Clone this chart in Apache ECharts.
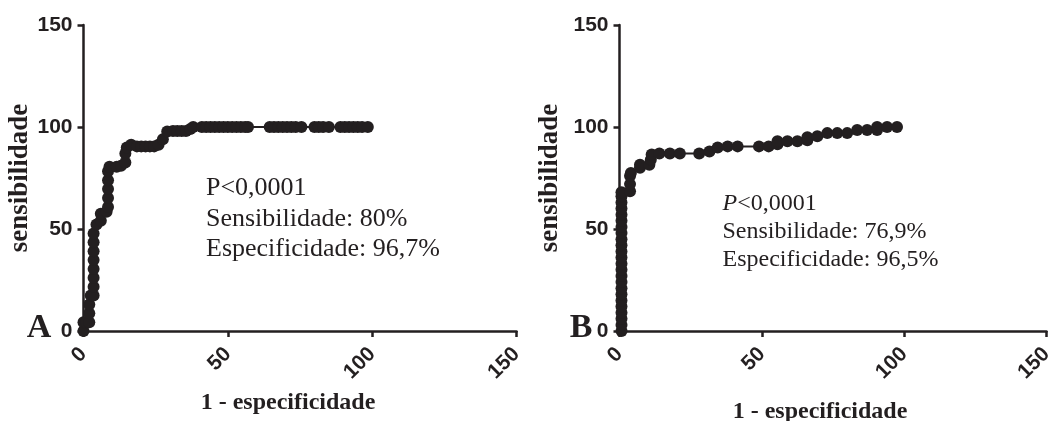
<!DOCTYPE html>
<html>
<head>
<meta charset="utf-8">
<script src="https://cdn.jsdelivr.net/npm/echarts@6/dist/echarts.min.js"></script>
<style>
  html, body { margin: 0; padding: 0; background: #fff; }
  #main { width: 1056px; height: 421px; }
</style>
</head>
<body>
<div id="main"></div>
<script>
// curva ROC A: [1 - especificidade, sensibilidade]
var rocA = [
  [0, 0], [0, 4.3], [1, 4.3], [2, 4.3], [2, 8.7], [2, 13], [2.5, 17.4], [3.5, 17.4],
  [3.5, 21.7], [3.5, 26.1], [3.5, 30.4], [3.5, 34.8], [3.5, 39.1], [3.5, 43.5], [3.5, 47.8],
  [4.5, 52.2], [6, 54], [6, 57.5], [8, 58.5], [8.5, 60.8], [8.5, 65.2], [8.5, 69.6],
  [8.5, 73.9], [8.5, 78.3], [9, 80.5], [11.5, 80.5], [13, 81], [14.5, 82.6], [14.5, 87],
  [15, 90], [16.5, 91.3], [18.5, 90.5], [20, 90.5], [21.5, 90.5], [23, 90.5], [24.5, 90.5],
  [26, 91.3], [27.5, 94], [29, 97.8], [31, 98], [32.5, 98], [34, 98], [35.5, 98], [37, 99],
  [38, 100], [41, 100], [42.5, 100], [44, 100], [45.5, 100], [47, 100], [48.5, 100],
  [50, 100], [51.5, 100], [53, 100], [54.5, 100], [56, 100], [57, 100], [64.5, 100],
  [66, 100], [67.5, 100], [69, 100], [70.5, 100], [72, 100], [73.5, 100], [75.5, 100],
  [80, 100], [81.5, 100], [83, 100], [85, 100], [89, 100], [90.5, 100], [92, 100],
  [93.5, 100], [95, 100], [96.5, 100], [98.5, 100]
];
// curva ROC B
var rocB = [
  [0.7, 0], [0.7, 3], [0.7, 6], [0.7, 9], [0.7, 12], [0.7, 15], [0.7, 18], [0.7, 21],
  [0.7, 24], [0.7, 27], [0.7, 30], [0.7, 33], [0.7, 36], [0.7, 39], [0.7, 42], [0.7, 45],
  [0.7, 48], [0.7, 51], [0.7, 54], [0.7, 57], [0.7, 60], [0.7, 63], [0.7, 66], [0.7, 68],
  [3.7, 68.5], [3.7, 72], [3.7, 76], [4, 77.5], [7.2, 80], [7.2, 81.5], [10.5, 81.5],
  [11, 84], [11.3, 86.5], [14, 87], [17.7, 87], [21.2, 87], [28, 87], [31.6, 88],
  [34.5, 90], [38, 90.5], [41.5, 90.5], [49, 90.5], [52.4, 90.5], [55.5, 91.5], [55.5, 93],
  [59, 93], [62.5, 93], [66, 93.5], [66, 95], [69.5, 95.5], [73, 97], [76.5, 97], [80, 97],
  [83.5, 98.5], [87, 98.5], [90.5, 98.5], [90.5, 100], [94, 100], [97.5, 100]
];
var axisMin = 0, axisMax = 150, axisStep = 50;
var xName = '1 - especificidade';
var yName = 'sensibilidade';
var notesA = ['P<0,0001', 'Sensibilidade: 80%', 'Especificidade: 96,7%'];
var notesB = ['{i|P}<0,0001', 'Sensibilidade: 76,9%', 'Especificidade: 96,5%'];

var ink = '#231f20';
var chart = echarts.init(document.getElementById('main'));

function xAxisOpt(idx) {
  return {
    type: 'value', gridIndex: idx, min: axisMin, max: axisMax, interval: axisStep,
    splitLine: { show: false },
    axisLine: { lineStyle: { color: ink, width: 2.5 } },
    axisTick: { length: 6, lineStyle: { color: ink, width: 2.5 } },
    axisLabel: {
      rotate: 45, margin: 20, color: ink,
      fontFamily: 'Liberation Sans', fontWeight: 'bold', fontSize: 21
    }
  };
}
function yAxisOpt(idx, gap) {
  return {
    type: 'value', gridIndex: idx, min: axisMin, max: axisMax, interval: axisStep,
    name: yName, nameLocation: 'middle', nameGap: gap,
    nameTextStyle: { fontFamily: 'Liberation Serif', fontWeight: 'bold', fontSize: 27, color: ink },
    splitLine: { show: false },
    axisLine: { show: true, lineStyle: { color: ink, width: 2.5 } },
    axisTick: { show: true, length: 6, lineStyle: { color: ink, width: 2.5 } },
    axisLabel: {
      margin: 11, color: ink,
      fontFamily: 'Liberation Sans', fontWeight: 'bold', fontSize: 21
    }
  };
}
function rocSeries(idx, data) {
  return {
    type: 'line', xAxisIndex: idx, yAxisIndex: idx, data: data,
    symbol: 'circle', symbolSize: 12, showAllSymbol: true,
    itemStyle: { color: ink }, lineStyle: { color: ink, width: 2 }
  };
}
function note(x, y, text, size, rich) {
  return {
    type: 'text', x: x, y: y,
    style: {
      text: text, fill: ink, fontFamily: 'Liberation Serif', fontSize: size,
      align: 'left', verticalAlign: 'middle', rich: rich || {}
    }
  };
}
function label(x, y, text, size) {
  return {
    type: 'text', x: x, y: y,
    style: {
      text: text, fill: ink, fontFamily: 'Liberation Serif', fontWeight: 'bold',
      fontSize: size, align: 'center', verticalAlign: 'middle'
    }
  };
}

var italic = { i: { fontFamily: 'Liberation Serif', fontSize: 24, fontStyle: 'italic', fill: ink } };

var option = {
  animation: false,
  backgroundColor: '#fff',
  grid: [
    { left: 83.5, top: 25, width: 433, height: 306 },
    { left: 619.5, top: 25, width: 429.5, height: 306 }
  ],
  xAxis: [xAxisOpt(0), xAxisOpt(1)],
  yAxis: [yAxisOpt(0, 50), yAxisOpt(1, 56)],
  series: [rocSeries(0, rocA), rocSeries(1, rocB)],
  graphic: [
    note(206, 188, notesA[0], 26),
    note(206, 219.5, notesA[1], 26),
    note(206, 249.5, notesA[2], 26),
    note(722.5, 203.5, notesB[0], 24, italic),
    note(722.5, 232, notesB[1], 24),
    note(722.5, 260, notesB[2], 24),
    label(288, 403, xName, 24),
    label(820, 412, xName, 24),
    label(39, 328, 'A', 34),
    label(581, 328, 'B', 34)
  ]
};
chart.setOption(option);
</script>
</body>
</html>
